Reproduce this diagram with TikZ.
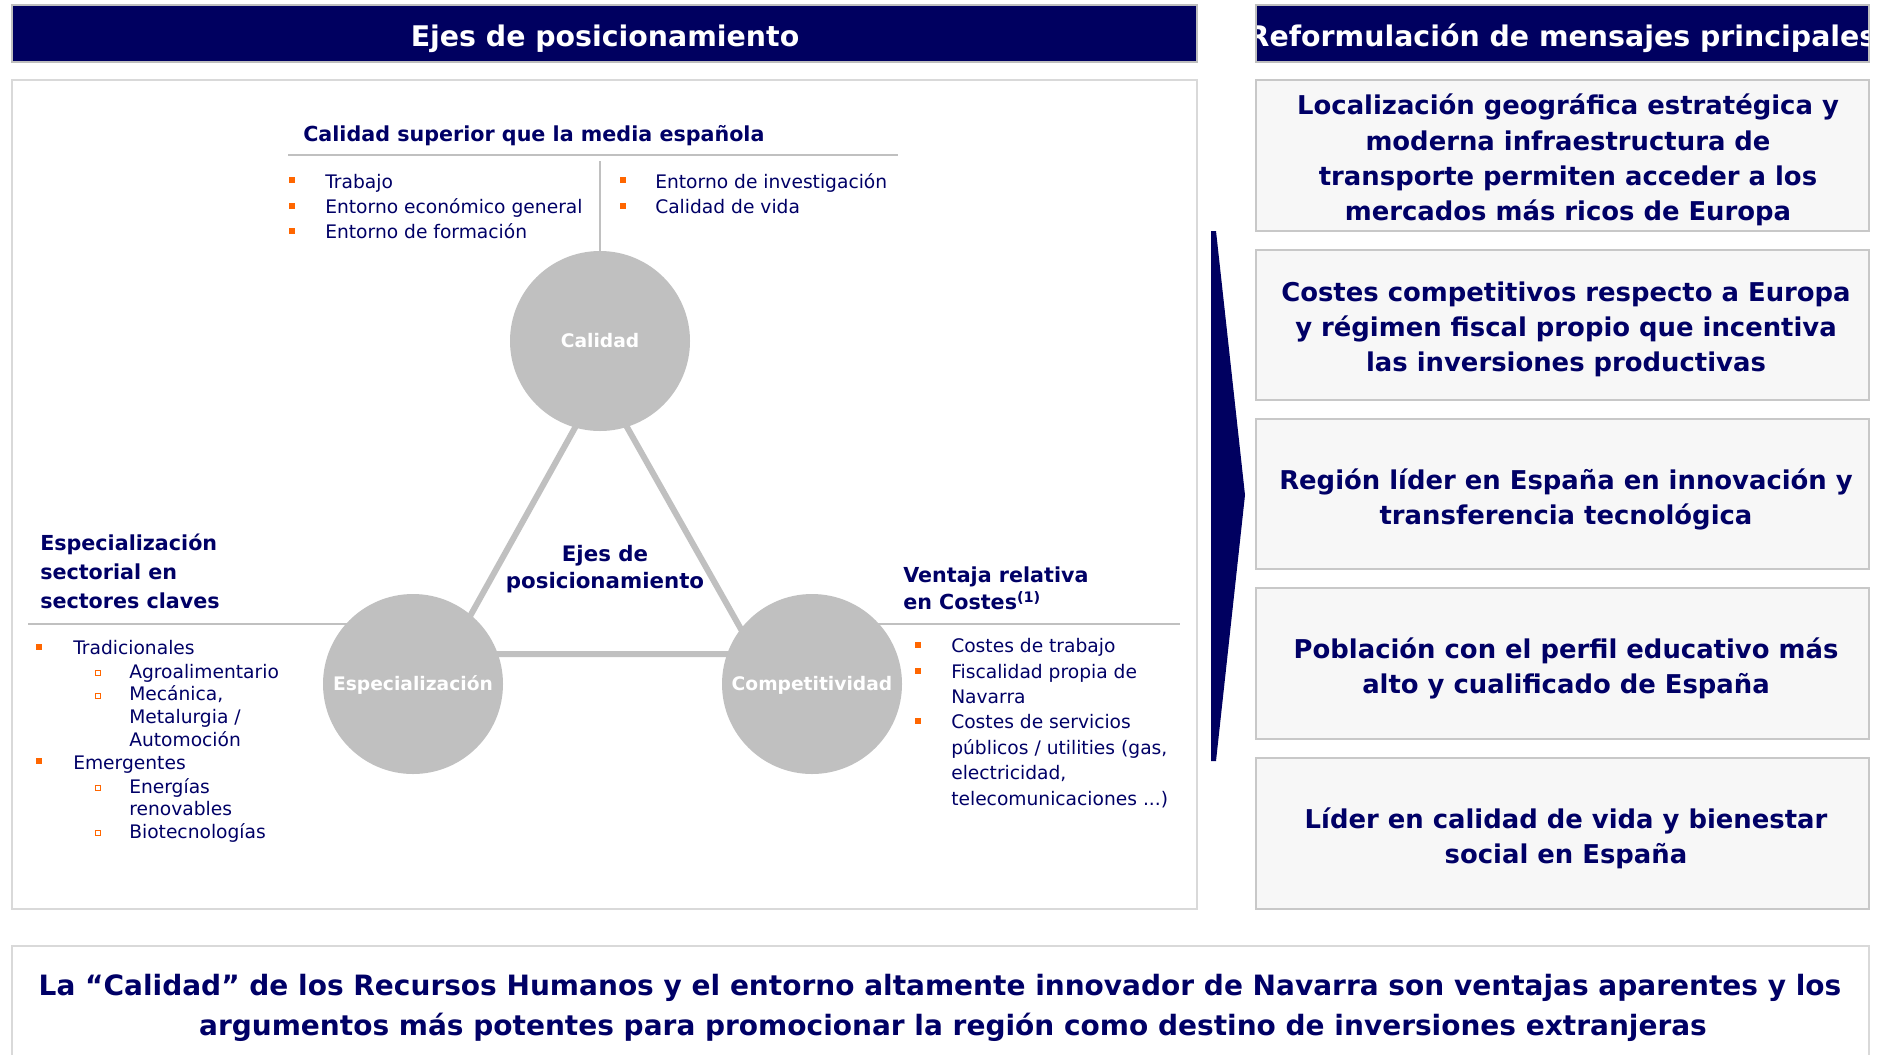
\documentclass[tikz,border=0pt]{standalone}
\usepackage{fontspec}
\setmainfont{DejaVu Sans}
\usetikzlibrary{positioning}

\definecolor{navy}{RGB}{0,0,96}
\definecolor{txtnavy}{RGB}{0,0,102}
\definecolor{hdrgray}{RGB}{190,190,190}
\definecolor{panelgray}{RGB}{217,217,217}
\definecolor{boxgray}{RGB}{200,200,200}
\definecolor{boxfill}{RGB}{247,247,247}
\definecolor{axisgray}{RGB}{192,192,192}
\definecolor{bulorange}{RGB}{255,102,0}

% orange bullets (filled / hollow)
\newcommand{\sqbul}[2]{\fill[bulorange] (#1-3,#2-3) rectangle (#1+3,#2+3);}
\newcommand{\hbul}[2]{\draw[bulorange,line width=0.8pt] (#1-2.5,#2-2.5) rectangle (#1+2.5,#2+2.5);}

\tikzset{
  hdr/.style={fill=navy,draw=hdrgray,line width=1.2pt},
  hdrtxt/.style={text=white,font=\fontsize{21.3}{25}\selectfont\bfseries,inner sep=0,yshift=-2.7pt},
  panel/.style={draw=panelgray,line width=1.5pt},
  msgbox/.style={fill=boxfill,draw=boxgray,line width=1.5pt},
  msg/.style={text=txtnavy,font=\fontsize{19.4}{26.5}\selectfont\bfseries,align=center,inner sep=0,yshift=-2.5pt},
  axisnode/.style={circle,fill=axisgray,minimum size=135pt,inner sep=0,text=white,
    text height=1.2em,text depth=0.2em,font=\fontsize{14}{16}\selectfont\bfseries},
  rule/.style={draw=axisgray,line width=2.2pt},
  tri/.style={draw=axisgray,line width=4.5pt},
  head/.style={text=txtnavy,font=\fontsize{15.5}{18}\selectfont\bfseries,anchor=mid west,inner sep=0,yshift=-2.7pt},
  item/.style={text=txtnavy,font=\fontsize{14}{17}\selectfont,anchor=mid west,inner sep=0,yshift=-2.5pt},
}

\begin{document}
\begin{tikzpicture}[x=0.75pt,y=0.75pt,yscale=-1,xscale=1]
\useasboundingbox (0,0) rectangle (1883,1054);

%Headers
\draw[hdr] (12,5) rectangle (1197,62);
\node[hdrtxt] (hdrL) at (605,35) {Ejes de posicionamiento};
\draw[hdr] (1256,5) rectangle (1869,62);
\begin{scope}
\clip (1257,6) rectangle (1868,61);
\node[hdrtxt] (hdrR) at (1562,35) {Reformulación de mensajes principales};
\end{scope}

%Left panel
\draw[panel] (12,80) rectangle (1197,909);

%Triangle behind the circles
\coordinate (triT) at (601,381);
\coordinate (triL) at (449,654);
\coordinate (triR) at (755,654);
\draw[tri] (triT) -- (triL) -- (triR) -- cycle;

%Rules
\draw[rule] (288,155) -- (898,155);
\coordinate (vtop) at (600,161);
\draw[rule] (28,624) -- (413,624);
\draw[rule] (812,624) -- (1180,624);

%Circles
\node[axisnode] (cal) at (600,341) {Calidad};
\node[axisnode] (esp) at (413,684) {Especialización};
\node[axisnode] (comp) at (812,684) {Competitividad};
\draw[rule] (vtop) -- (cal.north);

\node[text=txtnavy,font=\fontsize{16}{20}\selectfont\bfseries,align=center,inner sep=0,yshift=-2.5pt] (ejes) at (605,566) {Ejes de\\posicionamiento};

%Calidad
\node[head] (calH) at (303,134) {Calidad superior que la media española};
\sqbul{292}{180} \sqbul{292}{206} \sqbul{292}{231}
\node[item] (cal1) at (325,182) {Trabajo};
\node[item] (cal2) at (325,207) {Entorno económico general};
\node[item] (cal3) at (325,232) {Entorno de formación};
\sqbul{623}{180} \sqbul{623}{206}
\node[item] (cal4) at (655,182) {Entorno de investigación};
\node[item] (cal5) at (655,207) {Calidad de vida};

%Especializacion
\node[head] (espH1) at (40,543) {Especialización};
\node[head] (espH2) at (40,572) {sectorial en};
\node[head] (espH3) at (40,601) {sectores claves};
\sqbul{39}{647} \sqbul{39}{761}
\hbul{98}{673} \hbul{98}{696} \hbul{98}{788} \hbul{98}{833}
\node[item] (esp1) at (73,648) {Tradicionales};
\node[item] (esp2) at (129,672) {Agroalimentario};
\node[item] (esp3) at (129,694) {Mecánica,};
\node[item] (esp4) at (129,717) {Metalurgia /};
\node[item] (esp5) at (129,740) {Automoción};
\node[item] (esp6) at (73,763) {Emergentes};
\node[item] (esp7) at (129,787) {Energías};
\node[item] (esp8) at (129,809) {renovables};
\node[item] (esp9) at (129,832) {Biotecnologías};

%Competitividad
\node[head] (compH1) at (903,575) {Ventaja relativa};
\node[head] (compH2) at (903,602) {en Costes\textsuperscript{(1)}};
\sqbul{918}{645} \sqbul{918}{671} \sqbul{918}{721}
\node[item] (comp1) at (951,646) {Costes de trabajo};
\node[item] (comp2) at (951,672) {Fiscalidad propia de};
\node[item] (comp3) at (951,697) {Navarra};
\node[item] (comp4) at (951,722) {Costes de servicios};
\node[item] (comp5) at (951,748) {públicos / utilities (gas,};
\node[item] (comp6) at (951,773) {electricidad,};
\node[item] (comp7) at (951,799) {telecomunicaciones ...)};

%Arrow
\fill[navy] (1211,231) -- (1216,231) -- (1245,495) -- (1216,761) -- (1211,761) -- cycle;

%Message boxes
\draw[msgbox] (1256,80) rectangle (1869,231);
\node[msg] (msg1) at (1568,157) {Localización geográfica estratégica y\\moderna infraestructura de\\transporte permiten acceder a los\\mercados más ricos de Europa};
\draw[msgbox] (1256,250) rectangle (1869,400);
\node[msg] (msg2) at (1566,326) {Costes competitivos respecto a Europa\\y régimen fiscal propio que incentiva\\las inversiones productivas};
\draw[msgbox] (1256,419) rectangle (1869,569);
\node[msg] (msg3) at (1566,496) {Región líder en España en innovación y\\transferencia tecnológica};
\draw[msgbox] (1256,588) rectangle (1869,739);
\node[msg] (msg4) at (1566,665) {Población con el perfil educativo más\\alto y cualificado de España};
\draw[msgbox] (1256,758) rectangle (1869,909);
\node[msg] (msg5) at (1566,835) {Líder en calidad de vida y bienestar\\social en España};

%Conclusion
\draw[panel] (12,946) rectangle (1869,1080);
\node[msg,font=\fontsize{21}{25}\selectfont\bfseries] (concl1) at (940,985) {La “Calidad” de los Recursos Humanos y el entorno altamente innovador de Navarra son ventajas aparentes y los};
\node[msg,font=\fontsize{21}{25}\selectfont\bfseries] (concl2) at (953,1024) {argumentos más potentes para promocionar la región como destino de inversiones extranjeras};
\end{tikzpicture}
\end{document}
